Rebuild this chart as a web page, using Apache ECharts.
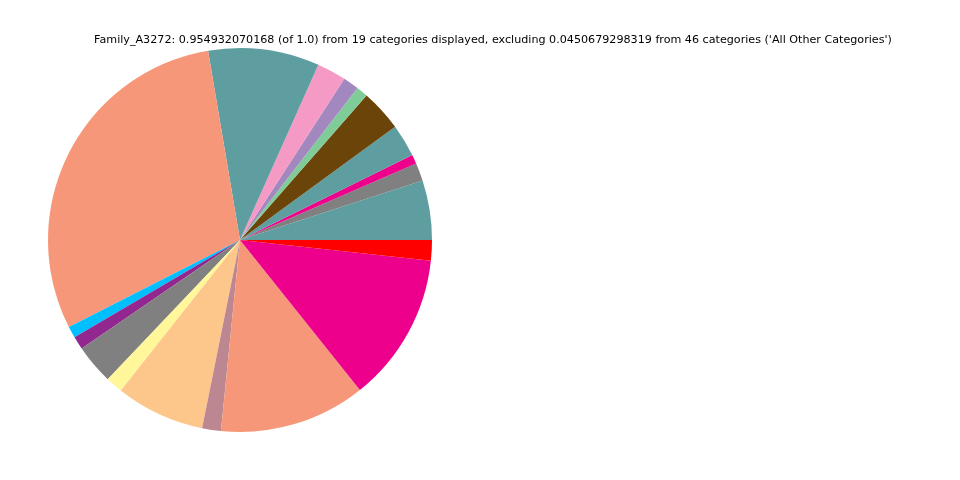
<!DOCTYPE html>
<html>
<head>
<meta charset="utf-8">
<script src="https://cdn.jsdelivr.net/npm/echarts@6/dist/echarts.min.js"></script>
<style>html,body{margin:0;padding:0;background:#fff;}#chart{width:960px;height:480px;}</style>
</head>
<body>
<div id="chart"></div>
<script>
const titleText = "Family_A3272: 0.954932070168 (of 1.0) from 19 categories displayed, excluding 0.0450679298319 from 46 categories ('All Other Categories')";
const categories = ["Category 1","Category 2","Category 3","Category 4","Category 5","Category 6","Category 7","Category 8","Category 9","Category 10","Category 11","Category 12","Category 13","Category 14","Category 15","Category 16","Category 17","Category 18","Category 19"];
const values = [0.0479,0.0143,0.0074,0.0262,0.0336,0.0093,0.0127,0.0234,0.0893,0.2848,0.0093,0.0105,0.0319,0.0137,0.0716,0.0151,0.1176,0.1198,0.0164];
const colors = ["#5F9EA0","#808080","#EC008C","#5F9EA0","#6B4409","#80CC99","#A387BF","#F49AC4","#5F9EA0","#F7977A","#00BFFF","#92278F","#808080","#FFF799","#FDC78C","#BC8790","#F7977A","#EC008C","#FF0000"];

const chart = echarts.init(document.getElementById('chart'));
chart.setOption({
  animation: false,
  backgroundColor: '#ffffff',
  title: {
    text: titleText,
    left: 488,
    top: 30,
    textAlign: 'center',
    textStyle: {fontFamily: 'DejaVu Sans', fontSize: 11.15, fontWeight: 'normal', color: '#000'}
  },
  series: [{
    type: 'pie',
    center: [240, 240],
    radius: 192,
    startAngle: 0,
    clockwise: false,
    minAngle: 0,
    avoidLabelOverlap: false,
    label: {show: false},
    labelLine: {show: false},
    emphasis: {disabled: true},
    itemStyle: {borderWidth: 0},
    data: categories.map((c, i) => ({name: c, value: values[i], itemStyle: {color: colors[i]}}))
  }]
});
</script>
</body>
</html>
